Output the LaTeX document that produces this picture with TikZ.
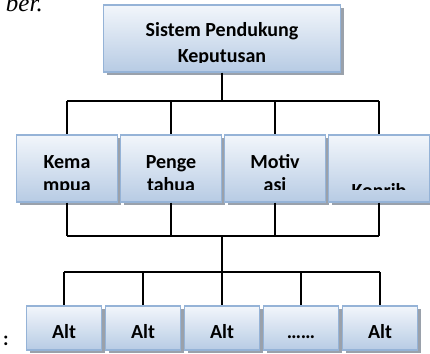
\documentclass[tikz,border=0pt]{standalone}
\usepackage{fontspec}
\newfontfamily\boxfont{Carlito}
\newfontfamily\capfont{Liberation Serif}
\usetikzlibrary{shadows}
\definecolor{boxedge}{HTML}{95B3D7}
\definecolor{boxtop}{HTML}{F2F6FB}
\definecolor{boxbot}{HTML}{B7CBE4}
\definecolor{boxshadow}{HTML}{9AA1AB}
\tikzset{
  wire/.style={line width=1.3pt, black},
  lbl/.style={font=\boxfont\bfseries\fontsize{20}{24}\selectfont, inner sep=0pt, anchor=base},
  box/.style={draw=boxedge, line width=1.4pt, top color=boxtop, bottom color=boxbot,
    general shadow={fill=boxshadow, shadow xshift=3pt, shadow yshift=-3pt}, inner sep=0pt},
  crit/.style={box, minimum width=101pt, minimum height=67pt},
  alt/.style={box, minimum width=75pt, minimum height=44pt, font=\boxfont\bfseries\fontsize{20}{24}\selectfont,
    text height=21pt, text depth=0pt},
}
% two lines of text, clipped short of the box bottom
\newcommand\cliplines[5]{%
  \clip ([yshift=#5]path picture bounding box.south west) rectangle (path picture bounding box.north east);
  \node[lbl] at ([yshift=-#3]path picture bounding box.north) {#1};
  \node[lbl] at ([yshift=-#3-#4]path picture bounding box.north) {#2};}
\begin{document}
\begin{tikzpicture}[x=1pt, y=-1pt]
  \useasboundingbox (0,0) rectangle (430,353);
  \node[font=\capfont\itshape\fontsize{25}{30}\selectfont, inner sep=0pt, anchor=base east] (cap) at (43,12) {ber.};
  % goal
  \node[box, minimum width=237pt, minimum height=67pt,
    path picture={\cliplines{Sistem Pendukung}{Keputusan}{32pt}{25pt}{10pt}}] (spk) at (222,38.5) {};
  % criteria
  \node[crit, path picture={\cliplines{Kema}{mpua}{33pt}{23pt}{13pt}}] (k1) at (67,168.5) {};
  \node[crit, path picture={\cliplines{Penge}{tahua}{33pt}{23pt}{13pt}}] (k2) at (171,168.5) {};
  \node[crit, path picture={\cliplines{Motiv}{asi}{33pt}{23pt}{13pt}}] (k3) at (275,168.5) {};
  \node[crit, path picture={\cliplines{}{Konrib}{39pt}{23pt}{13pt}}] (k4) at (379,168.5) {};
  % alternatives
  \node[alt] (a1) at (64,328) {Alt};
  \node[alt] (a2) at (143,328) {Alt};
  \node[alt] (a3) at (222,328) {Alt};
  \node[alt] (a4) at (301,328) {……};
  \node[alt] (a5) at (380,328) {Alt};
  \node[lbl] (colon) at (6,345) {:};
  % connectors
  \coordinate (bus1) at (222,101);
  \coordinate (bus2) at (222,236);
  \coordinate (bus3) at (222,272);
  \draw[wire] (spk.south) -- (bus1);
  \draw[wire] (bus1 -| k1) -- (bus1 -| k4);
  \foreach \k in {k1,k2,k3,k4}
    \draw[wire] (bus1 -| \k) -- (\k.north) (\k.south) -- (bus2 -| \k);
  \draw[wire] (bus2 -| k1) -- (bus2 -| k4);
  \draw[wire] (bus2) -- (bus3);
  \draw[wire] (bus3 -| a1) -- (bus3 -| a5);
  \foreach \a in {a1,a2,a3,a4,a5}
    \draw[wire] (bus3 -| \a) -- (\a.north);
\end{tikzpicture}
\end{document}
